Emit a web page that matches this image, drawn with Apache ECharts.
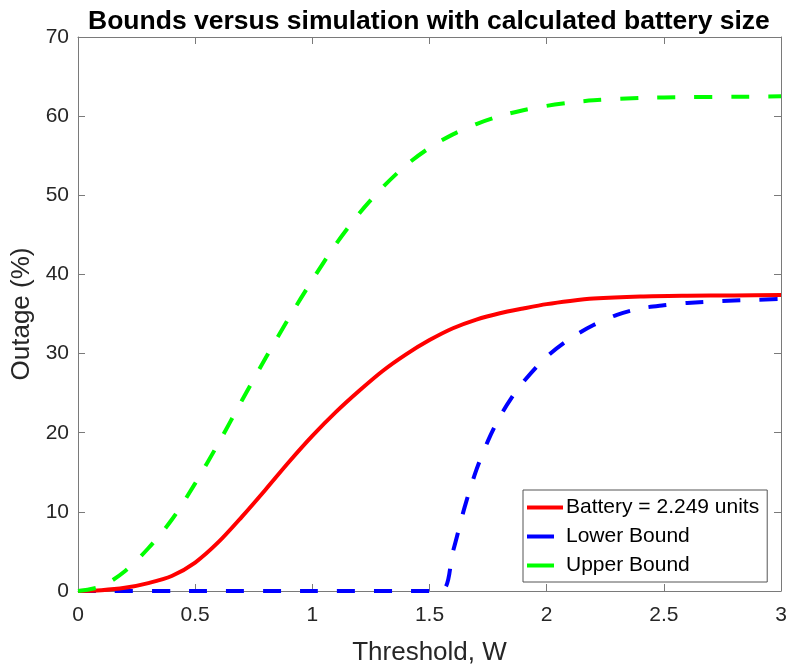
<!DOCTYPE html>
<html>
<head>
<meta charset="utf-8">
<script src="https://cdn.jsdelivr.net/npm/echarts@6/dist/echarts.min.js"></script>
<style>
  html, body { margin: 0; padding: 0; background: #ffffff; }
  #chart { width: 789px; height: 664px; }
</style>
</head>
<body>
<div id="chart"></div>
<script>
// Outage (%) against threshold W
const batteryX = [0, 0.1, 0.2, 0.3, 0.4, 0.5, 0.6, 0.7, 0.8, 0.9, 1.0, 1.1, 1.2, 1.3, 1.4, 1.5, 1.6, 1.7, 1.8, 1.9, 2.0, 2.1, 2.2, 2.4, 2.6, 2.8, 3.0];
const batteryY = [0, 0.1, 0.4, 1.0, 1.9, 3.6, 6.2, 9.4, 12.8, 16.3, 19.6, 22.6, 25.3, 27.8, 29.9, 31.7, 33.2, 34.3, 35.1, 35.7, 36.25, 36.65, 36.95, 37.2, 37.3, 37.35, 37.4];

const lowerX = [0, 0.5, 1.0, 1.545, 1.6, 1.65, 1.7, 1.75, 1.8, 1.85, 1.9, 2.0, 2.1, 2.2, 2.3, 2.4, 2.5, 2.6, 2.8, 3.0];
const lowerY = [0, 0, 0, 0, 5.0, 10.6, 15.3, 19.0, 22.0, 24.4, 26.4, 29.6, 31.9, 33.6, 34.9, 35.7, 36.1, 36.4, 36.7, 36.9];

const upperX = [0, 0.1, 0.2, 0.3, 0.4, 0.5, 0.6, 0.7, 0.8, 0.9, 1.0, 1.1, 1.2, 1.3, 1.4, 1.5, 1.6, 1.7, 1.8, 1.9, 2.0, 2.1, 2.2, 2.4, 2.6, 2.8, 3.0];
const upperY = [0, 0.6, 2.5, 5.4, 9.0, 13.6, 18.7, 24.1, 29.4, 34.5, 39.3, 43.8, 47.7, 51.0, 53.8, 56.0, 57.7, 59.0, 60.0, 60.75, 61.3, 61.7, 62.0, 62.3, 62.4, 62.45, 62.5];

const seriesNames = ['Battery = 2.249 units', 'Lower Bound', 'Upper Bound'];
const titleText = 'Bounds versus simulation with calculated battery size';
const xName = 'Threshold, W';
const yName = 'Outage (%)';

const FONT = '"Liberation Sans", Arial, Helvetica, sans-serif';
const AXIS_GRAY = '#7a7a7a';
const TEXT = '#262626';

function pairs(xs, ys) { return xs.map((x, i) => [x, ys[i]]); }

const chart = echarts.init(document.getElementById('chart'), null, { renderer: 'canvas' });

const baseAxis = {
  axisLine: { show: true, onZero: false, lineStyle: { color: AXIS_GRAY, width: 1 } },
  axisTick: { show: true, inside: true, length: 7, lineStyle: { color: AXIS_GRAY, width: 1 } },
  splitLine: { show: false }
};

chart.setOption({
  animation: false,
  backgroundColor: '#ffffff',
  textStyle: { fontFamily: FONT },
  title: {
    text: titleText,
    left: 88,
    top: 4,
    padding: [4, 0, 0, 0],
    textStyle: { fontFamily: FONT, fontWeight: 'bold', fontSize: 26.5, color: '#000000' }
  },
  grid: { left: 78, right: 8, top: 37, bottom: 73, containLabel: false, outerBoundsMode: 'none' },
  legend: {
    orient: 'vertical',
    left: 523,
    top: 490,
    width: 246,
    padding: [7, 8, 6, 4],
    itemGap: 8,
    itemWidth: 36,
    itemHeight: 4,
    backgroundColor: '#ffffff',
    borderColor: '#555555',
    borderWidth: 1,
    borderRadius: 0,
    itemStyle: { borderWidth: 0 },
    textStyle: { fontFamily: FONT, fontSize: 21, color: '#000000', padding: [0, 0, 0, -2] },
    data: [
      { name: seriesNames[0], icon: 'rect' },
      { name: seriesNames[1], icon: 'path://M0 0H27V4H0Z M36 0V4' },
      { name: seriesNames[2], icon: 'path://M0 0H27V4H0Z M36 0V4' }
    ]
  },
  xAxis: [
    Object.assign({}, baseAxis, {
      type: 'value', min: 0, max: 3, interval: 0.5, position: 'bottom',
      name: xName, nameLocation: 'middle', nameGap: 49,
      nameTextStyle: { fontFamily: FONT, fontSize: 26, color: TEXT },
      axisLabel: { fontFamily: FONT, fontSize: 21, color: TEXT, margin: 14 }
    }),
    Object.assign({}, baseAxis, {
      type: 'value', min: 0, max: 3, interval: 0.5, position: 'top',
      axisLabel: { show: false }
    })
  ],
  yAxis: [
    Object.assign({}, baseAxis, {
      type: 'value', min: 0, max: 70, interval: 10, position: 'left',
      name: yName, nameLocation: 'middle', nameGap: 37, nameRotate: 90,
      nameTextStyle: { fontFamily: FONT, fontSize: 26, color: TEXT },
      axisLabel: { fontFamily: FONT, fontSize: 21, color: TEXT, margin: 9 }
    }),
    Object.assign({}, baseAxis, {
      type: 'value', min: 0, max: 70, interval: 10, position: 'right',
      axisLabel: { show: false }
    })
  ],
  series: [
    {
      name: seriesNames[0], type: 'line', xAxisIndex: 0, yAxisIndex: 0,
      data: pairs(batteryX, batteryY),
      showSymbol: false, smooth: 0.3,
      lineStyle: { color: '#ff0000', width: 4, type: 'solid' },
      itemStyle: { color: '#ff0000' },
      z: 3
    },
    {
      name: seriesNames[1], type: 'line', xAxisIndex: 0, yAxisIndex: 0,
      data: pairs(lowerX, lowerY),
      showSymbol: false, smooth: 0.3,
      lineStyle: { color: '#0000ff', width: 4, type: [18, 19] },
      itemStyle: { color: '#0000ff' },
      z: 2
    },
    {
      name: seriesNames[2], type: 'line', xAxisIndex: 0, yAxisIndex: 0,
      data: pairs(upperX, upperY),
      showSymbol: false, smooth: 0.3,
      lineStyle: { color: '#00ff00', width: 4, type: [18, 19] },
      itemStyle: { color: '#00ff00' },
      z: 4
    }
  ]
});
</script>
</body>
</html>
